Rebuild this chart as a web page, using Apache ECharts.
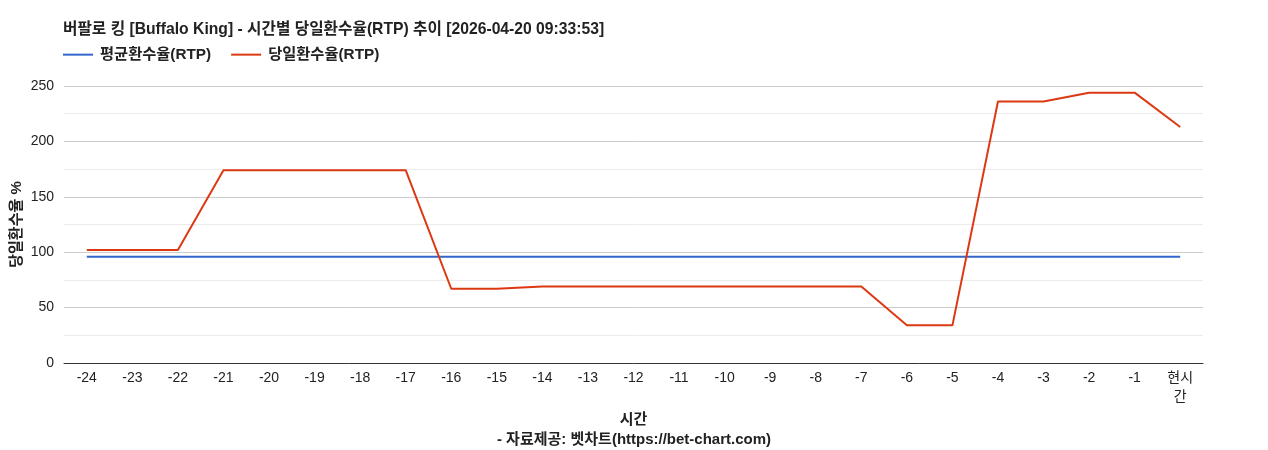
<!DOCTYPE html>
<html>
<head>
<meta charset="utf-8">
<script src="https://cdn.jsdelivr.net/npm/echarts@6/dist/echarts.min.js"></script>
<style>
  html, body { margin: 0; padding: 0; background: #fff; }
  #chart { width: 1268px; height: 450px; }
</style>
</head>
<body>
<div id="chart"></div>
<script>
var FONT = '"Liberation Sans", Arial, "Noto Sans CJK KR", sans-serif';

// x categories (hours before now)
var hours = ['-24','-23','-22','-21','-20','-19','-18','-17','-16','-15','-14','-13',
             '-12','-11','-10','-9','-8','-7','-6','-5','-4','-3','-2','-1','현시간'];

// average RTP (flat)
var avgRtp = [96,96,96,96,96,96,96,96,96,96,96,96,96,96,96,96,96,96,96,96,96,96,96,96,96];

// today's RTP
var dayRtp = [102,102,102,174,174,174,174,174,67,67,69,69,69,69,69,69,69,69,34,34,236,236,244,244,213];

var yTicks = [0, 50, 100, 150, 200, 250];

var chart = echarts.init(document.getElementById('chart'));

var option = {
    animation: false,
    textStyle: { fontFamily: FONT },
    title: [
        {
            text: '버팔로 킹 [Buffalo King] - 시간별 당일환수율(RTP) 추이 [2026-04-20 09:33:53]',
            left: 58, top: 17,
            textStyle: { fontFamily: FONT, fontSize: 15.7, fontWeight: 'bold', color: '#222' }
        },
        {
            text: '- 자료제공: 벳차트(https://bet-chart.com)',
            left: 'center', top: 427,
            textStyle: { fontFamily: FONT, fontSize: 15, fontWeight: 'bold', color: '#222' }
        }
    ],
    legend: {
        left: 58, top: 42,
        itemGap: 20,
        itemWidth: 30, itemHeight: 2,
        icon: 'rect',
        textStyle: { fontFamily: FONT, fontSize: 15.3, fontWeight: 'bold', color: '#222', padding: [0, 0, 0, 2] },
        data: ['평균환수율(RTP)', '당일환수율(RTP)']
    },
    grid: { left: 64, right: 65, top: 86, bottom: 87, containLabel: false, outerBoundsMode: 'none' },
    xAxis: {
        type: 'category',
        data: hours,
        boundaryGap: true,
        name: '시간',
        nameLocation: 'middle',
        nameGap: 42,
        nameTextStyle: { fontFamily: FONT, fontSize: 15, fontWeight: 'bold', color: '#222' },
        axisLine: { lineStyle: { color: '#333', width: 1 } },
        axisTick: { show: false },
        axisLabel: {
            color: '#222', fontSize: 14, margin: 6, interval: 0, lineHeight: 19,
            formatter: function (v) { return v === '현시간' ? '현시\n간' : v; }
        }
    },
    yAxis: {
        type: 'value',
        min: yTicks[0], max: yTicks[yTicks.length - 1], interval: 50,
        name: '당일환수율 %',
        nameLocation: 'middle',
        nameGap: 40,
        nameMoveOverlap: false,
        nameTextStyle: { fontFamily: FONT, fontSize: 15, fontWeight: 'bold', color: '#222' },
        axisLine: { show: false },
        axisTick: { show: false },
        axisLabel: { color: '#222', fontSize: 14, margin: 10 },
        splitLine: { lineStyle: { color: '#cccccc', width: 1 } },
        minorTick: { show: false, splitNumber: 2 },
        minorSplitLine: { show: true, lineStyle: { color: '#ebebeb', width: 1 } }
    },
    series: [
        {
            name: '평균환수율(RTP)',
            type: 'line',
            data: avgRtp,
            symbol: 'none',
            color: '#3366cc',
            lineStyle: { width: 2, color: '#3366cc' }
        },
        {
            name: '당일환수율(RTP)',
            type: 'line',
            data: dayRtp,
            symbol: 'none',
            color: '#dc3912',
            lineStyle: { width: 2, color: '#dc3912' }
        }
    ]
};

chart.setOption(option);
</script>
</body>
</html>
